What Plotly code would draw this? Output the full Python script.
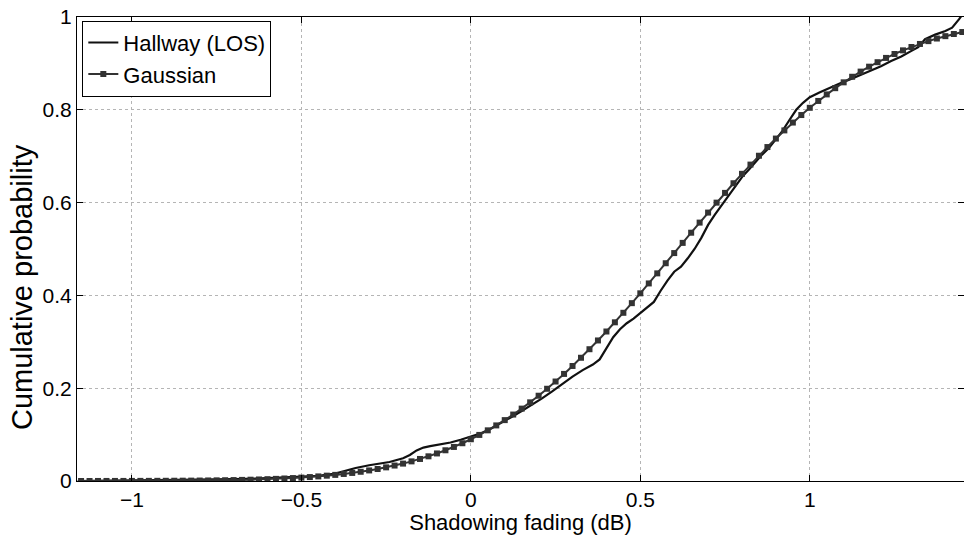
import plotly.graph_objects as go

# Gaussian fit CDF
gauss_x = [-1.15, -1.125, -1.1, -1.075, -1.05, -1.025, -1.0, -0.975, -0.95, -0.925,
           -0.9, -0.875, -0.85, -0.825, -0.8, -0.775, -0.75, -0.725, -0.7, -0.675,
           -0.65, -0.625, -0.6, -0.575, -0.55, -0.525, -0.5, -0.475, -0.45, -0.425,
           -0.4, -0.375, -0.35, -0.325, -0.3, -0.275, -0.25, -0.225, -0.2, -0.175,
           -0.15, -0.125, -0.1, -0.075, -0.05, -0.025, 0.0, 0.025, 0.05, 0.075,
           0.1, 0.125, 0.15, 0.175, 0.2, 0.225, 0.25, 0.275, 0.3, 0.325,
           0.35, 0.375, 0.4, 0.425, 0.45, 0.475, 0.5, 0.525, 0.55, 0.575,
           0.6, 0.625, 0.65, 0.675, 0.7, 0.725, 0.75, 0.775, 0.8, 0.825,
           0.85, 0.875, 0.9, 0.925, 0.95, 0.975, 1.0, 1.025, 1.05, 1.075,
           1.1, 1.125, 1.15, 1.175, 1.2, 1.225, 1.25, 1.275, 1.3, 1.325,
           1.35, 1.375, 1.4, 1.425, 1.45]
gauss_y = [0.00005, 0.00007, 0.00009, 0.0001, 0.00013, 0.00016, 0.0002, 0.00025, 0.0003, 0.00037,
           0.00045, 0.00055, 0.00067, 0.0008, 0.00097, 0.00117, 0.0014, 0.00167, 0.002, 0.00237,
           0.0028, 0.0033, 0.0039, 0.0046, 0.0054, 0.0063, 0.0073, 0.0085, 0.0099, 0.0115,
           0.0132, 0.0152, 0.0174, 0.0199, 0.0228, 0.0259, 0.0294, 0.0333, 0.0375, 0.0423,
           0.0475, 0.0532, 0.0594, 0.0662, 0.0734, 0.0814, 0.0900, 0.0993, 0.1092, 0.1198,
           0.1312, 0.1432, 0.1560, 0.1695, 0.1838, 0.1988, 0.2144, 0.2308, 0.2479, 0.2656,
           0.2840, 0.3029, 0.3222, 0.3420, 0.3625, 0.3833, 0.4045, 0.4258, 0.4475, 0.4693,
           0.4912, 0.5132, 0.5351, 0.5569, 0.5785, 0.5999, 0.6209, 0.6417, 0.6620, 0.6819,
           0.7010, 0.7197, 0.7380, 0.7556, 0.7725, 0.7887, 0.8043, 0.8191, 0.8332, 0.8466,
           0.8592, 0.8712, 0.8823, 0.8929, 0.9026, 0.9118, 0.9203, 0.9281, 0.9353, 0.9419,
           0.9480, 0.9536, 0.9587, 0.9634, 0.9676]

hall_x = [-1.16, -1.0, -0.9, -0.8, -0.7, -0.6, -0.5, -0.45, -0.4, -0.37,
          -0.34, -0.30, -0.27, -0.24, -0.20, -0.18, -0.16, -0.14, -0.12, -0.09,
          -0.06, -0.03, 0.0, 0.03, 0.06, 0.09, 0.12, 0.15, 0.18, 0.21,
          0.24, 0.27, 0.30, 0.33, 0.36, 0.38, 0.40, 0.42, 0.44, 0.46,
          0.48, 0.50, 0.52, 0.54, 0.56, 0.58, 0.60, 0.62, 0.64, 0.66,
          0.68, 0.70, 0.72, 0.74, 0.76, 0.78, 0.80, 0.82, 0.84, 0.86,
          0.88, 0.90, 0.92, 0.94, 0.96, 0.98, 1.00, 1.03, 1.06, 1.09,
          1.12, 1.15, 1.18, 1.21, 1.24, 1.27, 1.30, 1.32, 1.34, 1.37,
          1.40, 1.42, 1.44, 1.45]
hall_y = [0.000, 0.001, 0.002, 0.003, 0.004, 0.006, 0.009, 0.011, 0.016, 0.022,
          0.028, 0.034, 0.037, 0.041, 0.049, 0.056, 0.066, 0.072, 0.075, 0.079,
          0.083, 0.089, 0.096, 0.103, 0.113, 0.125, 0.138, 0.151, 0.164, 0.178,
          0.193, 0.210, 0.225, 0.239, 0.251, 0.262, 0.285, 0.310, 0.327, 0.340,
          0.350, 0.362, 0.372, 0.386, 0.410, 0.432, 0.451, 0.462, 0.480, 0.500,
          0.524, 0.552, 0.574, 0.594, 0.614, 0.634, 0.655, 0.671, 0.688, 0.704,
          0.718, 0.737, 0.755, 0.778, 0.800, 0.815, 0.827, 0.838, 0.848, 0.857,
          0.866, 0.875, 0.884, 0.894, 0.905, 0.915, 0.927, 0.935, 0.952, 0.962,
          0.970, 0.977, 0.995, 1.005]

x_ticks = [-1, -0.5, 0, 0.5, 1]
y_ticks = [0, 0.2, 0.4, 0.6, 0.8, 1]

FONT = "Liberation Sans, Arial, Helvetica, sans-serif"

fig = go.Figure()
fig.add_trace(go.Scatter(
    x=hall_x, y=hall_y, mode="lines", name="Hallway (LOS)",
    line=dict(color="#111111", width=2.2),
))
fig.add_trace(go.Scatter(
    x=gauss_x, y=gauss_y, mode="lines+markers", name="Gaussian",
    line=dict(color="#333333", width=2),
    marker=dict(symbol="square", size=6, color="#333333"),
))

axis_common = dict(
    showline=True, linecolor="black", linewidth=1, mirror="ticks",
    ticks="inside", ticklen=6, tickcolor="black", tickwidth=1,
    showgrid=True, gridcolor="#b5b5b5", griddash="dot", gridwidth=1,
    zeroline=False, tickfont=dict(family=FONT, size=21, color="black"),
)

fig.update_xaxes(
    range=[-1.162, 1.455], tickvals=x_ticks, ticktext=["\u22121", "\u22120.5", "0", "0.5", "1"],
    title=dict(text="Shadowing fading (dB)", font=dict(family=FONT, size=22, color="black"), standoff=4),
    **axis_common,
)
fig.update_yaxes(
    range=[0, 1], tickvals=y_ticks, ticktext=["0", "0.2", "0.4", "0.6", "0.8", "1"],
    **axis_common,
)

fig.add_annotation(
    text="Cumulative probability", xref="paper", yref="paper",
    x=-0.062, y=0.418, xanchor="center", yanchor="middle", textangle=-90,
    showarrow=False, font=dict(family=FONT, size=29, color="black"),
)

fig.update_layout(
    width=964, height=535,
    margin=dict(l=77, r=0, t=17, b=54),
    paper_bgcolor="white", plot_bgcolor="white",
    showlegend=True,
    legend=dict(
        x=0.006, y=0.992, xanchor="left", yanchor="top",
        bgcolor="white", bordercolor="black", borderwidth=1,
        font=dict(family=FONT, size=22, color="black"),
        itemwidth=30, tracegroupgap=0,
    ),
)

fig.write_html("out.html")
